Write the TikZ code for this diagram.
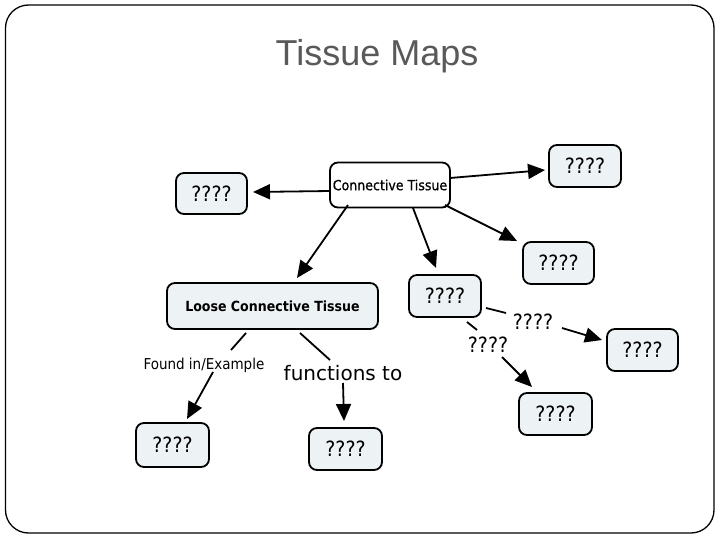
\documentclass[tikz,border=0pt]{standalone}
\usepackage{fontspec}
\setmainfont{DejaVu Sans}
\newfontfamily\condf[BoldFont={DejaVu Sans Condensed Bold}]{DejaVu Sans Condensed}
\newfontfamily\condsemi[FakeBold=0.8]{DejaVu Sans Condensed}
\newfontfamily\titlef{Liberation Sans}
\usetikzlibrary{arrows.meta,calc}
\definecolor{boxfill}{HTML}{EDF2F5}
\definecolor{titlegray}{HTML}{595959}
\tikzset{
  qbox/.style={draw=black, line width=1.8pt, rounded corners=8pt, fill=boxfill, inner sep=0pt,
    minimum width=72pt, minimum height=42pt, font=\condf\fontsize{21}{21}\selectfont},
  conn/.style={line width=1.8pt, -{Triangle[length=17pt,width=15pt]}},
  plainline/.style={line width=1.8pt},
  lbl/.style={inner sep=0pt}
}
\begin{document}
\begin{tikzpicture}[x=1pt,y=-1pt]
\path[use as bounding box, fill=white] (0,0) rectangle (720,540);
\draw[line width=1.3pt, rounded corners=23pt] (5.5,5) rectangle (714,533);
\node[anchor=base, text=titlegray, font=\titlef\fontsize{36}{36}\selectfont] (title) at (377,66) {Tissue Maps};

% boxes
\node[qbox, fill=white, minimum width=120pt, minimum height=45pt, font=\condsemi\fontsize{14}{14}\selectfont] (ct) at (390,185) {Connective Tissue};
\node[qbox, minimum width=71pt, minimum height=41pt] (qL) at (211.5,193.5) {????};
\node[qbox] (qTR) at (585,166) {????};
\node[qbox, minimum width=71pt] (qMR) at (558.5,263) {????};
\node[qbox, minimum width=211pt, minimum height=46pt, font=\condf\bfseries\fontsize{14}{14}\selectfont] (loose) at (272.5,306) {Loose Connective Tissue};
\node[qbox] (q3) at (445,296) {????};
\node[qbox, minimum width=71pt] (qR) at (642.5,350) {????};
\node[qbox, minimum width=73pt] (qLow) at (555.5,414) {????};
\node[qbox, minimum width=73pt, minimum height=44pt] (qBL) at (172.5,445) {????};
\node[qbox, minimum width=73pt] (qBM) at (345.5,449) {????};

% link labels
\node[lbl, font=\condf\fontsize{15}{15}\selectfont] (fi) at (204,365) {Found in/Example};
\node[lbl, font=\fontsize{20}{20}\selectfont] (ft) at (343,373) {functions to};
\node[lbl, font=\condf\fontsize{21}{21}\selectfont] (r1) at (533,322) {????};
\node[lbl, font=\condf\fontsize{21}{21}\selectfont] (r2) at (488,345) {????};

% connectors
\draw[conn] ($(ct)+(-60,6)$) -- ($(qL)+(41.5,-1.5)$);
\draw[conn] ($(ct)+(60,-7)$) -- ($(qTR)+(-40,4)$);
\draw[conn] ($(ct)+(55,20)$) -- ($(qMR)+(-41.5,-22)$);
\draw[conn] ($(ct)+(23,23)$) -- ($(q3)+(-9,-28)$);
\draw[conn] ($(ct)+(-42,20)$) -- ($(loose)+(24.5,-28)$);

\draw[plainline] ($(loose)+(-26.5,27)$) -- ($(fi)+(27,-15)$);
\draw[conn] ($(fi)+(9,7)$) -- ($(qBL)+(14.5,-26)$);
\draw[plainline] ($(loose)+(27.5,27)$) -- ($(ft)+(-13,-13)$);
\draw[conn] ($(ft)+(0,10)$) -- ($(qBM)+(-1.5,-28)$);

\draw[plainline] ($(q3)+(41,12)$) -- ($(r1)+(-27,-9)$);
\draw[conn] ($(r1)+(29,6)$) -- ($(qR)+(-40.5,-10)$);
\draw[plainline] ($(q3)+(22,26)$) -- ($(r2)+(-11,-15)$);
\draw[conn] ($(r2)+(14,12)$) -- ($(qLow)+(-23.5,-27)$);
\end{tikzpicture}
\end{document}
